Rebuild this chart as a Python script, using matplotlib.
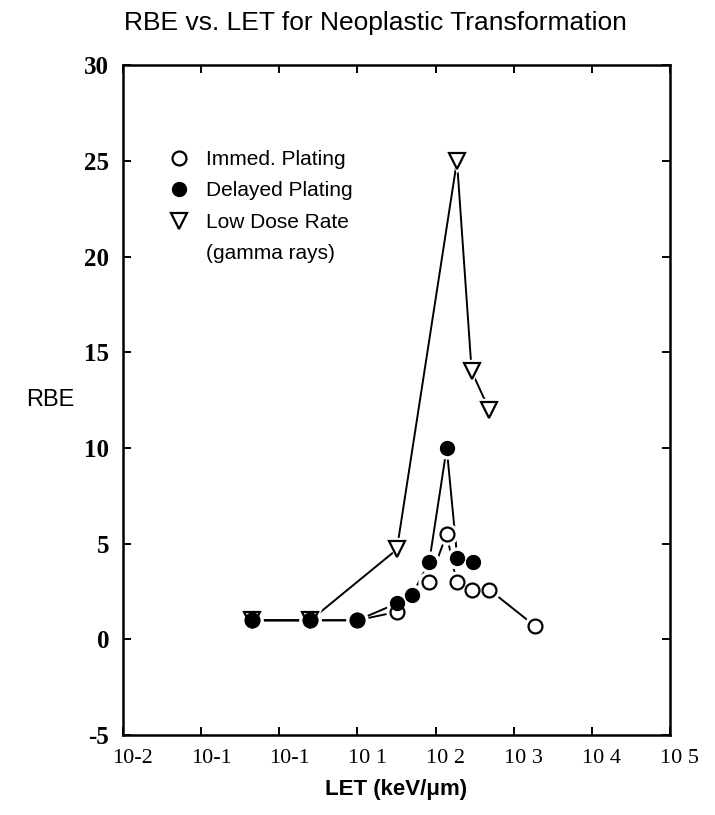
import numpy as np
import matplotlib
matplotlib.use("Agg")
import matplotlib.pyplot as plt
import matplotlib.transforms as mtransforms
from matplotlib.lines import Line2D

# values (LET in keV/um, RBE)
let_immed = [0.45, 2.5, 10, 32, 82, 139, 186, 290, 487, 1875]
rbe_immed = [1.0, 1.0, 1.0, 1.44, 3.0, 5.5, 3.0, 2.6, 2.6, 0.7]

let_delayed = [0.45, 2.5, 10, 32, 50, 83, 139, 190, 298]
rbe_delayed = [1.0, 1.0, 1.0, 1.88, 2.31, 4.05, 10.0, 4.23, 4.05]

let_lowdose = [0.45, 2.5, 32, 188, 290, 487]
rbe_lowdose = [1.0, 1.0, 4.7, 25.0, 14.0, 12.0]

xtick_pos = [1e-2, 1e-1, 1e0, 1e1, 1e2, 1e3, 1e4, 1e5]
xtick_labels = ["10-2", "10-1", "10-1", "10 1", "10 2", "10 3", "10 4", "10 5"]
ytick_pos = [-5, 0, 5, 10, 15, 20, 25, 30]

sans = "Liberation Sans"
serif = "Liberation Serif"

fig = plt.figure(figsize=(7.15, 8.15), dpi=100)
ax = fig.add_axes([0.172, 0.098, 0.765, 0.822])

series = [
    (let_lowdose, rbe_lowdose, dict(marker="v", ms=11, mfc="white", mec="black", mew=1.6)),
    (let_immed, rbe_immed, dict(marker="o", ms=10, mfc="white", mec="black", mew=1.6)),
    (let_delayed, rbe_delayed, dict(marker="o", ms=10, mfc="black", mec="black", mew=1.0)),
]

# lines first, then a white halo so lines stop short of markers, then markers
for x, y, st in series:
    ax.plot(x, y, color="black", lw=1.4, zorder=1)
for x, y, st in series:
    ax.plot(x, y, ls="none", marker=st["marker"], ms=st["ms"] + 5,
            mfc="white", mec="white", zorder=2)
for i, (x, y, st) in enumerate(series):
    ax.plot(x, y, ls="none", zorder=3 + i, **st)

ax.set_xscale("log")
ax.set_xlim(1e-2, 1e5)
ax.set_ylim(-5, 30)
ax.set_xticks(xtick_pos)
ax.set_xticklabels(xtick_labels, fontsize=16, family=serif)
ax.xaxis.set_minor_locator(matplotlib.ticker.NullLocator())
ax.set_yticks(ytick_pos)
ax.set_yticklabels([str(v) for v in ytick_pos], fontsize=18, family=serif,
                   fontweight="bold")

ax.tick_params(direction="in", length=6, width=1.4, top=True, right=True)
ax.tick_params(axis="x", pad=10)
ax.tick_params(axis="y", pad=10)
for sp in ax.spines.values():
    sp.set_linewidth(1.8)

# tick labels in the original sit a bit right of their ticks
offset = mtransforms.ScaledTranslation(10 / 100, 0, fig.dpi_scale_trans)
for lab in ax.get_xticklabels():
    lab.set_transform(lab.get_transform() + offset)

ax.set_xlabel("LET (keV/\u03bcm)", fontsize=16, fontweight="bold", family=sans,
              labelpad=8)
ax.set_ylabel("RBE", fontsize=17, family=sans, rotation=0, labelpad=24, va="center")

fig.text(0.525, 0.972, "RBE vs. LET for Neoplastic Transformation",
         fontsize=19, family=sans, ha="center", va="center")

handles = [
    Line2D([], [], ls="none", marker="o", ms=10, mfc="white", mec="black", mew=1.6),
    Line2D([], [], ls="none", marker="o", ms=10, mfc="black", mec="black"),
    Line2D([], [], ls="none", marker="v", ms=11, mfc="white", mec="black", mew=1.6),
    Line2D([], [], ls="none", marker=None),
]
labels = ["Immed. Plating", "Delayed Plating", "Low Dose Rate", "(gamma rays)"]
ax.legend(handles, labels, loc="upper left", bbox_to_anchor=(0.068, 0.886),
          frameon=False, prop=dict(family=sans, size=15), handlelength=1.0,
          handletextpad=0.8, labelspacing=0.6, borderaxespad=0)

fig.savefig("out.png", dpi=100)
